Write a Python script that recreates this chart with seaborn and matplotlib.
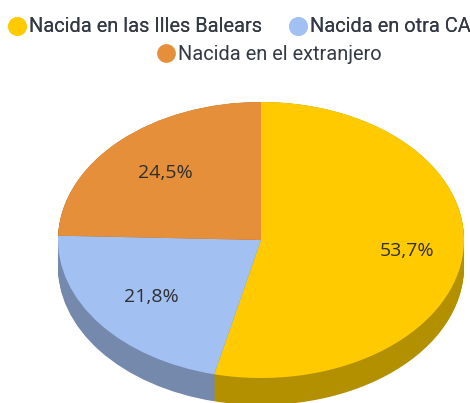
import matplotlib
matplotlib.use('Agg')
import matplotlib.pyplot as plt
from matplotlib.lines import Line2D
import seaborn as sns

categorias = ['Nacida en las Illes Balears', 'Nacida en otra CA', 'Nacida en el extranjero']
valores = [53.7, 21.8, 24.5]
colores = ['#ffcb00', '#a3c0f2', '#e58f3a']
colores_lado = ['#b39000', '#7489ac', '#a5672a']

sns.set_theme(style='white')
plt.rcParams['font.family'] = ['Roboto', 'DejaVu Sans']

fig = plt.figure(figsize=(4.7, 4.03), dpi=100)
ax = fig.add_axes([0, 0, 1, 1])

# radios en pixeles del disco
rx, ry = 203, 138
cx, cy = 261, 240
grosor = 27 / ry

# lado del disco: copias oscuras desplazadas hacia abajo
for i in range(28):
    ax.pie(valores, colors=colores_lado, startangle=90, counterclock=False,
           center=(0, -grosor * (27 - i) / 27), frame=True,
           wedgeprops={'linewidth': 0})

# cara superior
wedges, _, pct = ax.pie(valores, colors=colores, startangle=90, counterclock=False,
                        autopct=lambda p: f'{p:.1f}%'.replace('.', ','),
                        pctdistance=0.68, frame=True, wedgeprops={'linewidth': 0},
                        textprops={'family': ['Open Sans', 'DejaVu Sans'],
                                   'fontsize': 14, 'color': '#2f2f2f'})
pct[0].set_x(pct[0].get_position()[0] + 0.045)

ax.set_aspect('auto')
ax.set_xlim(-cx / rx, (470 - cx) / rx)
ax.set_ylim(-(403 - cy) / ry, cy / ry)
ax.axis('off')


def marca(color):
    return Line2D([], [], marker='o', linestyle='none', markersize=13.5,
                  markerfacecolor=color, markeredgewidth=0)


# leyenda en dos filas centradas
fila1 = fig.legend([marca(colores[0]), marca(colores[1])], categorias[:2], ncol=2,
                   loc='center', bbox_to_anchor=(238 / 470, 1 - 27 / 403), frameon=False,
                   fontsize=14.4, labelcolor='#333a45', handletextpad=0.0,
                   columnspacing=1.25, borderpad=0, handlelength=1.15)
fig.add_artist(fila1)
fig.legend([marca(colores[2])], categorias[2:], ncol=1,
           loc='center', bbox_to_anchor=(268 / 470, 1 - 54 / 403), frameon=False,
           fontsize=14.4, labelcolor='#333a45', handletextpad=0.0,
           borderpad=0, handlelength=1.15)

fig.savefig('out.png', dpi=100, facecolor='white')
